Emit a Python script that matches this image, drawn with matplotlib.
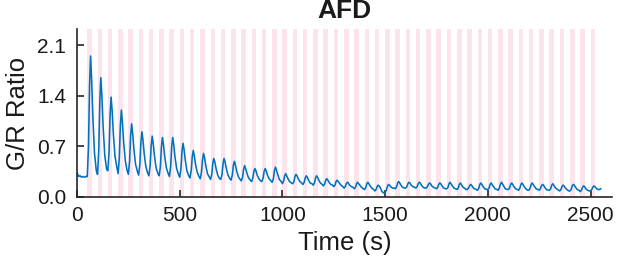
import matplotlib
matplotlib.use("Agg")
import matplotlib.pyplot as plt

plt.rcParams['font.family'] = ['Liberation Sans', 'DejaVu Sans']

# ---- data ----
stim_onsets = [50 + 50 * k for k in range(50)]  # stimulus (pink) onsets, s
stim_width = 22

time_s = [
    0, 4, 8, 15, 22, 30, 38, 45,
    50, 56, 61, 66, 71, 77, 85, 94,
    100, 106, 111, 116, 121, 127, 135, 144,
    150, 156, 161, 166, 171, 177, 185, 194,
    200, 206, 211, 216, 221, 227, 235, 244,
    250, 256, 261, 266, 271, 277, 285, 294,
    300, 306, 311, 316, 321, 327, 335, 344,
    350, 356, 361, 366, 371, 377, 385, 394,
    400, 406, 411, 416, 421, 427, 435, 444,
    450, 456, 461, 466, 471, 477, 485, 494,
    500, 506, 511, 516, 521, 527, 535, 544,
    550, 556, 561, 566, 571, 577, 585, 594,
    600, 606, 611, 616, 621, 627, 635, 644,
    650, 656, 661, 666, 671, 677, 685, 694,
    700, 706, 711, 716, 721, 727, 735, 744,
    750, 756, 761, 766, 771, 777, 785, 794,
    800, 806, 811, 816, 821, 827, 835, 844,
    850, 856, 861, 866, 871, 877, 885, 894,
    900, 906, 911, 916, 921, 927, 935, 944,
    950, 956, 961, 966, 971, 977, 985, 994,
    1000, 1006, 1011, 1016, 1021, 1027, 1035, 1044,
    1050, 1056, 1061, 1066, 1071, 1077, 1085, 1094,
    1100, 1106, 1111, 1116, 1121, 1127, 1135, 1144,
    1150, 1156, 1161, 1166, 1171, 1177, 1185, 1194,
    1200, 1206, 1211, 1216, 1221, 1227, 1235, 1244,
    1250, 1256, 1261, 1266, 1271, 1277, 1285, 1294,
    1300, 1306, 1311, 1316, 1321, 1327, 1335, 1344,
    1350, 1356, 1361, 1366, 1371, 1377, 1385, 1394,
    1400, 1406, 1411, 1416, 1421, 1427, 1435, 1444,
    1450, 1456, 1461, 1466, 1471, 1477, 1485, 1494,
    1500, 1506, 1511, 1516, 1521, 1527, 1535, 1544,
    1550, 1556, 1561, 1566, 1571, 1577, 1585, 1594,
    1600, 1606, 1611, 1616, 1621, 1627, 1635, 1644,
    1650, 1656, 1661, 1666, 1671, 1677, 1685, 1694,
    1700, 1706, 1711, 1716, 1721, 1727, 1735, 1744,
    1750, 1756, 1761, 1766, 1771, 1777, 1785, 1794,
    1800, 1806, 1811, 1816, 1821, 1827, 1835, 1844,
    1850, 1856, 1861, 1866, 1871, 1877, 1885, 1894,
    1900, 1906, 1911, 1916, 1921, 1927, 1935, 1944,
    1950, 1956, 1961, 1966, 1971, 1977, 1985, 1994,
    2000, 2006, 2011, 2016, 2021, 2027, 2035, 2044,
    2050, 2056, 2061, 2066, 2071, 2077, 2085, 2094,
    2100, 2106, 2111, 2116, 2121, 2127, 2135, 2144,
    2150, 2156, 2161, 2166, 2171, 2177, 2185, 2194,
    2200, 2206, 2211, 2216, 2221, 2227, 2235, 2244,
    2250, 2256, 2261, 2266, 2271, 2277, 2285, 2294,
    2300, 2306, 2311, 2316, 2321, 2327, 2335, 2344,
    2350, 2356, 2361, 2366, 2371, 2377, 2385, 2394,
    2400, 2406, 2411, 2416, 2421, 2427, 2435, 2444,
    2450, 2456, 2461, 2466, 2471, 2477, 2485, 2494,
    2500, 2506, 2511, 2516, 2521, 2527, 2535, 2544,
    2550,
]

gr_ratio = [
    0.33, 0.31, 0.28, 0.29, 0.27, 0.28, 0.27, 0.28,
    0.28, 0.70, 1.53, 1.95, 1.65, 1.12, 0.61, 0.36,
    0.31, 0.65, 1.32, 1.65, 1.41, 0.98, 0.58, 0.38,
    0.36, 0.62, 1.13, 1.38, 1.20, 0.87, 0.56, 0.41,
    0.32, 0.54, 0.98, 1.20, 1.04, 0.76, 0.50, 0.36,
    0.31, 0.49, 0.84, 1.01, 0.88, 0.66, 0.45, 0.35,
    0.30, 0.45, 0.75, 0.90, 0.79, 0.60, 0.42, 0.33,
    0.29, 0.43, 0.70, 0.84, 0.74, 0.57, 0.40, 0.32,
    0.29, 0.42, 0.69, 0.82, 0.72, 0.56, 0.40, 0.32,
    0.28, 0.42, 0.69, 0.82, 0.72, 0.55, 0.39, 0.31,
    0.27, 0.39, 0.62, 0.74, 0.66, 0.51, 0.36, 0.29,
    0.26, 0.36, 0.55, 0.64, 0.57, 0.45, 0.34, 0.28,
    0.25, 0.34, 0.51, 0.60, 0.54, 0.43, 0.32, 0.27,
    0.24, 0.31, 0.46, 0.53, 0.48, 0.39, 0.30, 0.25,
    0.24, 0.31, 0.46, 0.53, 0.48, 0.39, 0.30, 0.25,
    0.23, 0.30, 0.43, 0.49, 0.44, 0.36, 0.28, 0.24,
    0.22, 0.27, 0.38, 0.43, 0.39, 0.33, 0.26, 0.23,
    0.21, 0.26, 0.35, 0.39, 0.36, 0.30, 0.25, 0.22,
    0.21, 0.26, 0.35, 0.39, 0.36, 0.30, 0.25, 0.22,
    0.20, 0.25, 0.36, 0.41, 0.37, 0.31, 0.24, 0.21,
    0.18, 0.22, 0.29, 0.32, 0.29, 0.25, 0.21, 0.19,
    0.18, 0.21, 0.28, 0.31, 0.29, 0.25, 0.21, 0.19,
    0.17, 0.20, 0.26, 0.29, 0.27, 0.23, 0.19, 0.18,
    0.16, 0.19, 0.26, 0.29, 0.27, 0.23, 0.19, 0.17,
    0.15, 0.18, 0.23, 0.25, 0.23, 0.20, 0.17, 0.16,
    0.14, 0.16, 0.21, 0.23, 0.21, 0.19, 0.16, 0.14,
    0.12, 0.14, 0.18, 0.20, 0.19, 0.16, 0.14, 0.13,
    0.11, 0.13, 0.18, 0.20, 0.18, 0.16, 0.13, 0.11,
    0.10, 0.13, 0.18, 0.20, 0.18, 0.15, 0.12, 0.10,
    0.08, 0.10, 0.14, 0.16, 0.15, 0.12, 0.07, 0.05,
    0.06, 0.09, 0.14, 0.17, 0.16, 0.14, 0.12, 0.12,
    0.11, 0.14, 0.19, 0.21, 0.19, 0.16, 0.13, 0.12,
    0.12, 0.14, 0.18, 0.20, 0.19, 0.16, 0.14, 0.13,
    0.12, 0.14, 0.18, 0.20, 0.19, 0.16, 0.13, 0.12,
    0.12, 0.14, 0.17, 0.19, 0.18, 0.15, 0.13, 0.12,
    0.11, 0.13, 0.17, 0.19, 0.18, 0.15, 0.12, 0.11,
    0.11, 0.13, 0.18, 0.20, 0.18, 0.15, 0.12, 0.11,
    0.10, 0.12, 0.17, 0.19, 0.17, 0.14, 0.12, 0.10,
    0.10, 0.12, 0.15, 0.17, 0.16, 0.13, 0.11, 0.10,
    0.09, 0.12, 0.17, 0.19, 0.17, 0.14, 0.11, 0.10,
    0.10, 0.12, 0.17, 0.19, 0.17, 0.14, 0.11, 0.10,
    0.09, 0.12, 0.17, 0.20, 0.18, 0.15, 0.11, 0.10,
    0.10, 0.12, 0.17, 0.19, 0.17, 0.14, 0.11, 0.10,
    0.09, 0.12, 0.17, 0.19, 0.17, 0.14, 0.11, 0.09,
    0.09, 0.12, 0.17, 0.19, 0.17, 0.14, 0.11, 0.10,
    0.09, 0.11, 0.15, 0.17, 0.16, 0.13, 0.10, 0.09,
    0.09, 0.11, 0.16, 0.18, 0.16, 0.13, 0.11, 0.09,
    0.08, 0.10, 0.14, 0.16, 0.15, 0.12, 0.10, 0.08,
    0.08, 0.10, 0.15, 0.17, 0.16, 0.13, 0.10, 0.09,
    0.07, 0.09, 0.13, 0.15, 0.14, 0.11, 0.09, 0.08,
    0.08, 0.10, 0.13, 0.15, 0.14, 0.12, 0.10, 0.10,
    0.11,
]

x_ticks = [0, 500, 1000, 1500, 2000, 2500]
y_ticks = [0.0, 0.7, 1.4, 2.1]
y_tick_labels = ["0.0", "0.7", "1.4", "2.1"]

# ---- figure ----
fig = plt.figure(figsize=(6.17, 2.66), dpi=100)
ax = fig.add_axes([0.1248, 0.2605, 0.8666, 0.6293])

for s in stim_onsets:
    ax.axvspan(s, s + stim_width, color="#fde4ec", lw=0, zorder=0)

ax.plot(time_s, gr_ratio, color="#0072BD", lw=1.15, zorder=2)

ax.set_xlim(0, 2603)
ax.set_ylim(0, 2.32)
ax.set_xticks(x_ticks)
ax.set_yticks(y_ticks)
ax.set_yticklabels(y_tick_labels)

for side in ("top", "right"):
    ax.spines[side].set_visible(False)
for side in ("left", "bottom"):
    ax.spines[side].set_linewidth(1.2)
    ax.spines[side].set_color("#262626")

ax.tick_params(axis="both", direction="in", length=5, width=1.2,
               color="#262626", labelsize=15, labelcolor="#1a1a1a")
ax.tick_params(axis="x", pad=7)
ax.tick_params(axis="y", pad=8)

ax.set_xlabel("Time (s)", fontsize=18.5, color="#1a1a1a", labelpad=4)
ax.set_ylabel("G/R Ratio", fontsize=18.5, color="#1a1a1a", labelpad=5)
ax.set_title("AFD", fontsize=19, fontweight="bold", color="#1a1a1a", pad=8)

fig.savefig("out.png", dpi=100)
